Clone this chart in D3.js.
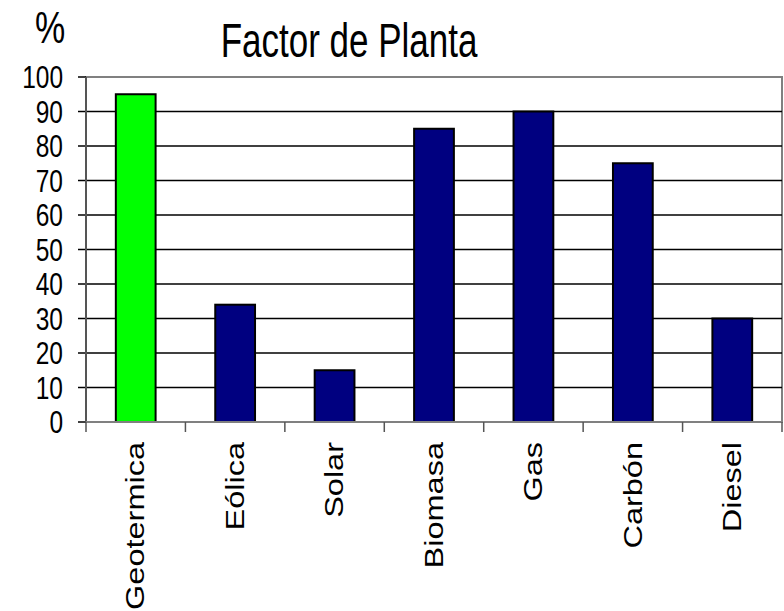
<!DOCTYPE html>
<html>
<head>
<meta charset="utf-8">
<script src="https://d3js.org/d3.v7.min.js"></script>
<style>
  body { margin: 0; background: #fff; }
  text { font-family: "Liberation Sans", Arial, sans-serif; fill: #000; }
</style>
</head>
<body>
<script>
// data
var categories = ["Geotermica", "Eólica", "Solar", "Biomasa", "Gas", "Carbón", "Diesel"];
var values = [95, 34, 15, 85, 90, 75, 30];
var barColors = ["#00ff00", "#000080", "#000080", "#000080", "#000080", "#000080", "#000080"];
var yTicks = [0, 10, 20, 30, 40, 50, 60, 70, 80, 90, 100];

var w = 784, h = 611;
var plotLeft = 86, plotRight = 782, plotTop = 77, plotBottom = 422;

var svg = d3.select("body").append("svg")
    .attr("width", w)
    .attr("height", h);

var x = d3.scaleBand()
    .domain(categories)
    .range([plotLeft, plotRight])
    .paddingInner(0.6)
    .paddingOuter(0.3);

var y = d3.scaleLinear()
    .domain([0, 100])
    .range([plotBottom, plotTop]);

// plot area border (gray)
svg.append("rect")
    .attr("x", plotLeft).attr("y", plotTop)
    .attr("width", plotRight - plotLeft).attr("height", plotBottom - plotTop)
    .attr("fill", "none")
    .attr("stroke", "#808080")
    .attr("stroke-width", 2);

// gridlines
svg.selectAll("line.grid")
    .data(yTicks.filter(function(d) { return d > 0 && d < 100; }))
    .enter().append("line")
    .attr("class", "grid")
    .attr("x1", plotLeft).attr("x2", plotRight)
    .attr("y1", function(d) { return y(d); })
    .attr("y2", function(d) { return y(d); })
    .attr("stroke", "#000")
    .attr("stroke-width", 1.5);

// y ticks + labels
svg.selectAll("line.ytick")
    .data(yTicks)
    .enter().append("line")
    .attr("class", "ytick")
    .attr("x1", plotLeft - 8).attr("x2", plotLeft)
    .attr("y1", function(d) { return y(d); })
    .attr("y2", function(d) { return y(d); })
    .attr("stroke", "#000")
    .attr("stroke-width", 1.5);

svg.selectAll("text.ylab")
    .data(yTicks)
    .enter().append("text")
    .attr("class", "ylab")
    .attr("transform", function(d) { return "translate(63," + y(d) + ") scale(1,1.25)"; })
    .attr("text-anchor", "end")
    .attr("dy", "0.36em")
    .attr("font-size", 24.5)
    .text(function(d) { return d; });

// bars
svg.selectAll("rect.bar")
    .data(values)
    .enter().append("rect")
    .attr("class", "bar")
    .attr("x", function(d, i) { return x(categories[i]); })
    .attr("y", function(d) { return y(d); })
    .attr("width", x.bandwidth())
    .attr("height", function(d) { return y(0) - y(d); })
    .attr("fill", function(d, i) { return barColors[i]; })
    .attr("stroke", "#000")
    .attr("stroke-width", 2);

// left axis + bottom axis
svg.append("line")
    .attr("x1", plotLeft).attr("x2", plotLeft)
    .attr("y1", plotTop).attr("y2", plotBottom)
    .attr("stroke", "#555").attr("stroke-width", 2);
svg.append("line")
    .attr("x1", plotLeft).attr("x2", plotRight)
    .attr("y1", plotBottom).attr("y2", plotBottom)
    .attr("stroke", "#808080").attr("stroke-width", 2);

// x ticks at band edges
var edges = categories.map(function(c) { return x(c) - x.step() * x.paddingInner() / 2; });
edges.push(plotRight);
svg.selectAll("line.xtick")
    .data(edges)
    .enter().append("line")
    .attr("class", "xtick")
    .attr("x1", function(d) { return d; })
    .attr("x2", function(d) { return d; })
    .attr("y1", plotBottom).attr("y2", plotBottom + 10)
    .attr("stroke", "#555").attr("stroke-width", 1.5);

// x labels, rotated
svg.selectAll("text.xlab")
    .data(categories)
    .enter().append("text")
    .attr("class", "xlab")
    .attr("transform", function(d) {
        return "translate(" + (x(d) + x.bandwidth() / 2) + ",442) rotate(-90) scale(1.3,1)";
    })
    .attr("text-anchor", "end")
    .attr("dy", "0.35em")
    .attr("font-size", 25)
    .text(function(d) { return d; });

// title and unit
svg.append("text")
    .attr("transform", "translate(349,57) scale(1,1.4)")
    .attr("text-anchor", "middle")
    .attr("font-size", 35)
    .text("Factor de Planta");

svg.append("text")
    .attr("transform", "translate(35,43) scale(1,1.3)")
    .attr("font-size", 34)
    .text("%");
</script>
</body>
</html>
